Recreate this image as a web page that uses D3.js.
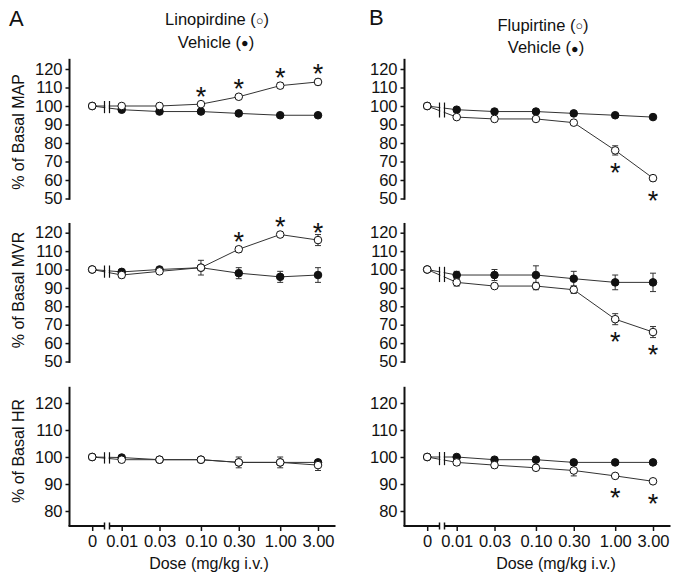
<!DOCTYPE html>
<html><head><meta charset="utf-8">
<script src="https://cdn.jsdelivr.net/npm/d3@7"></script>
<style>
body{margin:0;background:#fff}
svg{display:block}
text{font-family:"Liberation Sans",Arial,Helvetica,sans-serif;fill:#111}
</style>
</head><body>
<svg id="chart" width="677" height="580"></svg>
<script>
// ---------- data ----------
const doses = [0.01, 0.03, 0.10, 0.30, 1.00, 3.00];
const doseLabels = ["0", "0.01", "0.03", "0.10", "0.30", "1.00", "3.00"];
const baseValue = 100;            // value at dose 0 (both series)
const ticksBP = [50, 60, 70, 80, 90, 100, 110, 120];
const ticksHR = [80, 90, 100, 110, 120];
const panelLetters = ["A", "B"];
const drugNames = ["Linopirdine", "Flupirtine"];
const vehicleName = "Vehicle";
const openSymbol = "\u25CB";
const filledSymbol = "\u25CF";
const rowLabels = ["% of Basal MAP", "% of Basal MVR", "% of Basal HR"];
const xTitle = "Dose (mg/kg i.v.)";

// Column A: Linopirdine
const linoMAP    = [100, 100, 101, 105, 111, 113];
const linoMAPErr = [0, 0, 0.5, 1, 1.5, 1.5];
const vehAMAP    = [98, 97, 97, 96, 95, 95];
const vehAMAPErr = [0, 0, 0, 0, 0, 0];
const linoMVR    = [97, 99, 101, 111, 119, 116];
const linoMVRErr = [1.5, 1, 4, 1.5, 0.5, 3];
const vehAMVR    = [98.7, 100, 101, 98, 96, 97];
const vehAMVRErr = [1, 1, 1, 3, 3, 4];
const linoHR     = [99, 99, 99, 98, 98, 97];
const linoHRErr  = [1, 0.5, 0.5, 2, 2, 2];
const vehAHR     = [99.8, 99, 99, 98, 98, 98];
const vehAHRErr  = [0.5, 0, 0, 0.5, 0.5, 0.5];
const sigAMAP = [0, 0, 1, 1, 1, 1];
const sigAMVR = [0, 0, 0, 1, 1, 1];
const sigAHR  = [0, 0, 0, 0, 0, 0];

// Column B: Flupirtine
const fluMAP     = [94, 93, 93, 91, 76, 61];
const fluMAPErr  = [0.5, 0.5, 0.5, 0.5, 2.5, 1.5];
const vehBMAP    = [98, 97, 97, 96, 95, 94];
const vehBMAPErr = [0, 0, 0, 0, 0, 0];
const fluMVR     = [93, 91, 91, 89, 73, 66];
const fluMVRErr  = [2, 1, 2, 2, 3, 3];
const vehBMVR    = [97, 97, 97, 95, 93, 93];
const vehBMVRErr = [2, 3, 5, 4, 4, 5];
const fluHR      = [98, 97, 96, 95, 93, 91];
const fluHRErr   = [1, 1, 1, 2, 0.5, 0.5];
const vehBHR     = [100, 99, 99, 98, 98, 98];
const vehBHRErr  = [0, 0, 0, 0, 0, 0];
const sigBMAP = [0, 0, 0, 0, 1, 1];
const sigBMVR = [0, 0, 0, 0, 1, 1];
const sigBHR  = [0, 0, 0, 0, 1, 1];

// ---------- layout ----------
const svg = d3.select("#chart");
const colOffset = [0, 335];
const rows = [
  {ticks: ticksBP, domain: [50, 120], range: [198.5, 69],  top: 125.5, bottom: 49.3},
  {ticks: ticksBP, domain: [50, 120], range: [361.5, 232.7], top: 125.3, bottom: 49.2},
  {ticks: ticksHR, domain: [80, 120], range: [511, 403],   top: 126,   bottom: 74.45}
];
const labelCenters = [132, 290, 451];

const panels = [
  {col: 0, row: 0, drug: linoMAP, drugErr: linoMAPErr, veh: vehAMAP, vehErr: vehAMAPErr, sig: sigAMAP, side: -1},
  {col: 0, row: 1, drug: linoMVR, drugErr: linoMVRErr, veh: vehAMVR, vehErr: vehAMVRErr, sig: sigAMVR, side: -1},
  {col: 0, row: 2, drug: linoHR,  drugErr: linoHRErr,  veh: vehAHR,  vehErr: vehAHRErr,  sig: sigAHR,  side: -1},
  {col: 1, row: 0, drug: fluMAP,  drugErr: fluMAPErr,  veh: vehBMAP, vehErr: vehBMAPErr, sig: sigBMAP, side: 1},
  {col: 1, row: 1, drug: fluMVR,  drugErr: fluMVRErr,  veh: vehBMVR, vehErr: vehBMVRErr, sig: sigBMVR, side: 1},
  {col: 1, row: 2, drug: fluHR,   drugErr: fluHRErr,   veh: vehBHR,  vehErr: vehBHRErr,  sig: sigBHR,  side: 1}
];

const R = 3.8;
const lineColor = "#333";
const ink = "#111";
const tickFont = "16.5px";

function xScales(col) {
  const off = colOffset[col];
  const xLog = d3.scaleLog().domain([0.01, 3]).range([121.7 + off, 318 + off]);
  const x0 = xLog(0.01) - 29.5;
  const b1 = xLog(0.01) - 17.2, b2 = xLog(0.01) - 12.2;
  const axisX = 69.5 + off;
  return {xLog, x0, b1, b2, axisX, pos: d => d === 0 ? x0 : xLog(d)};
}

// ---------- column headers ----------
function legendLine(x, y, name, sym) {
  const t = svg.append("text").attr("x", x).attr("y", y)
    .attr("text-anchor", "middle").style("font-size", "16.5px");
  t.append("tspan").text(name + " (");
  t.append("tspan").style("font-size", "12.5px").attr("dy", -0.5).text(sym);
  t.append("tspan").attr("dy", 0.5).text(")");
}
[0, 1].forEach(col => {
  svg.append("text").attr("x", col ? 369 : 9).attr("y", col ? 25 : 26)
    .style("font-size", "22px").text(panelLetters[col]);
  legendLine(col ? 543 : 217, col ? 30.5 : 25, drugNames[col], openSymbol);
  legendLine(col ? 546 : 216, col ? 53 : 47.5, vehicleName, filledSymbol);
});

// ---------- panels ----------
panels.forEach(p => {
  const rw = rows[p.row];
  const xs = xScales(p.col);
  const y = d3.scaleLinear().domain(rw.domain).range(rw.range);
  const g = svg.append("g");

  // y axis
  const ax = g.append("g").attr("transform", `translate(${xs.axisX},0)`)
    .call(d3.axisLeft(y).tickValues(rw.ticks).tickSize(4).tickPadding(3));
  ax.select(".domain").remove();
  ax.selectAll(".tick line").attr("stroke", ink).attr("stroke-width", 1.5);
  ax.selectAll(".tick text").style("font-size", tickFont).attr("fill", ink)
    .style("font-family", '"Liberation Sans",Arial,sans-serif');
  g.append("line").attr("x1", xs.axisX).attr("x2", xs.axisX)
    .attr("y1", y(rw.top)).attr("y2", y(rw.bottom))
    .attr("stroke", ink).attr("stroke-width", 2);

  // row label (left column only)
  if (p.col === 0) {
    svg.append("text").attr("transform", `translate(24,${labelCenters[p.row]}) rotate(-90)`)
      .attr("text-anchor", "middle").style("font-size", "16px").text(rowLabels[p.row]);
  }

  const series = [
    {vals: p.veh, err: p.vehErr, filled: true},
    {vals: p.drug, err: p.drugErr, filled: false}
  ];
  const line = d3.line().x(d => xs.pos(d.dose)).y(d => y(d.v));

  // lines
  series.forEach(s => {
    const pts = [{dose: 0, v: baseValue}].concat(doses.map((d, i) => ({dose: d, v: s.vals[i]})));
    g.append("path").datum(pts).attr("d", line)
      .attr("fill", "none").attr("stroke", lineColor).attr("stroke-width", 1);
  });

  // break marks on the data lines
  const yAt = (s, bx) => {
    const xa = xs.x0, xb = xs.xLog(0.01);
    const t = (bx - xa) / (xb - xa);
    return y(baseValue + t * (s.vals[0] - baseValue));
  };
  const ys = [];
  series.forEach(s => { ys.push(yAt(s, xs.b1)); ys.push(yAt(s, xs.b2)); });
  const yMin = d3.min(ys) - 5, yMax = d3.max(ys) + 5;
  g.append("rect").attr("x", xs.b1 + 0.8).attr("width", xs.b2 - xs.b1 - 1.6)
    .attr("y", yMin).attr("height", yMax - yMin).attr("fill", "#fff");
  [xs.b1, xs.b2].forEach(bx => {
    g.append("line").attr("x1", bx).attr("x2", bx).attr("y1", yMin).attr("y2", yMax)
      .attr("stroke", ink).attr("stroke-width", 1.2);
  });

  // error bars
  series.forEach(s => {
    doses.forEach((d, i) => {
      const e = s.err[i];
      if (!e) return;
      const cx = xs.xLog(d);
      const yt = y(s.vals[i] + e), yb = y(s.vals[i] - e);
      g.append("line").attr("x1", cx).attr("x2", cx).attr("y1", yt).attr("y2", yb)
        .attr("stroke", lineColor).attr("stroke-width", 1);
      [yt, yb].forEach(yy => g.append("line").attr("x1", cx - 3).attr("x2", cx + 3)
        .attr("y1", yy).attr("y2", yy).attr("stroke", lineColor).attr("stroke-width", 1));
    });
  });

  // markers
  series.forEach(s => {
    const pts = [{dose: 0, v: baseValue}].concat(doses.map((d, i) => ({dose: d, v: s.vals[i]})));
    g.selectAll(null).data(pts).enter().append("circle")
      .attr("cx", d => xs.pos(d.dose)).attr("cy", d => y(d.v)).attr("r", R)
      .attr("fill", s.filled ? ink : "#fff").attr("stroke", ink).attr("stroke-width", 1);
  });

  // significance asterisks
  doses.forEach((d, i) => {
    if (!p.sig[i]) return;
    const cy = y(p.drug[i]) + (p.side < 0 ? -14 : 16);
    g.append("text").attr("x", xs.xLog(d)).attr("y", cy + 15.5)
      .attr("text-anchor", "middle").style("font-size", "27px").text("*");
  });

  // x axis (bottom row)
  if (p.row === 2) {
    const xAxisY = y(rw.bottom);
    const ord = d3.scaleOrdinal().domain(doseLabels)
      .range([0].concat(doses).map(xs.pos));
    const xa = g.append("g").attr("transform", `translate(0,${xAxisY})`)
      .call(d3.axisBottom(ord).tickSize(5).tickPadding(4));
    xa.select(".domain").remove();
    xa.selectAll(".tick line").attr("stroke", ink).attr("stroke-width", 1.5);
    xa.selectAll(".tick text").style("font-size", tickFont).attr("fill", ink)
      .style("font-family", '"Liberation Sans",Arial,sans-serif');
    g.append("line").attr("x1", xs.axisX - 1).attr("x2", xs.b1)
      .attr("y1", xAxisY).attr("y2", xAxisY).attr("stroke", ink).attr("stroke-width", 2);
    g.append("line").attr("x1", xs.b2).attr("x2", xs.axisX + 266)
      .attr("y1", xAxisY).attr("y2", xAxisY).attr("stroke", ink).attr("stroke-width", 2);
    [xs.b1, xs.b2].forEach(bx => g.append("line").attr("x1", bx).attr("x2", bx)
      .attr("y1", xAxisY - 3.5).attr("y2", xAxisY + 3.5).attr("stroke", ink).attr("stroke-width", 1.5));
    svg.append("text").attr("x", p.col ? 556 : 209).attr("y", 569)
      .attr("text-anchor", "middle").style("font-size", "16px").text(xTitle);
  }
});
</script>
</body></html>
